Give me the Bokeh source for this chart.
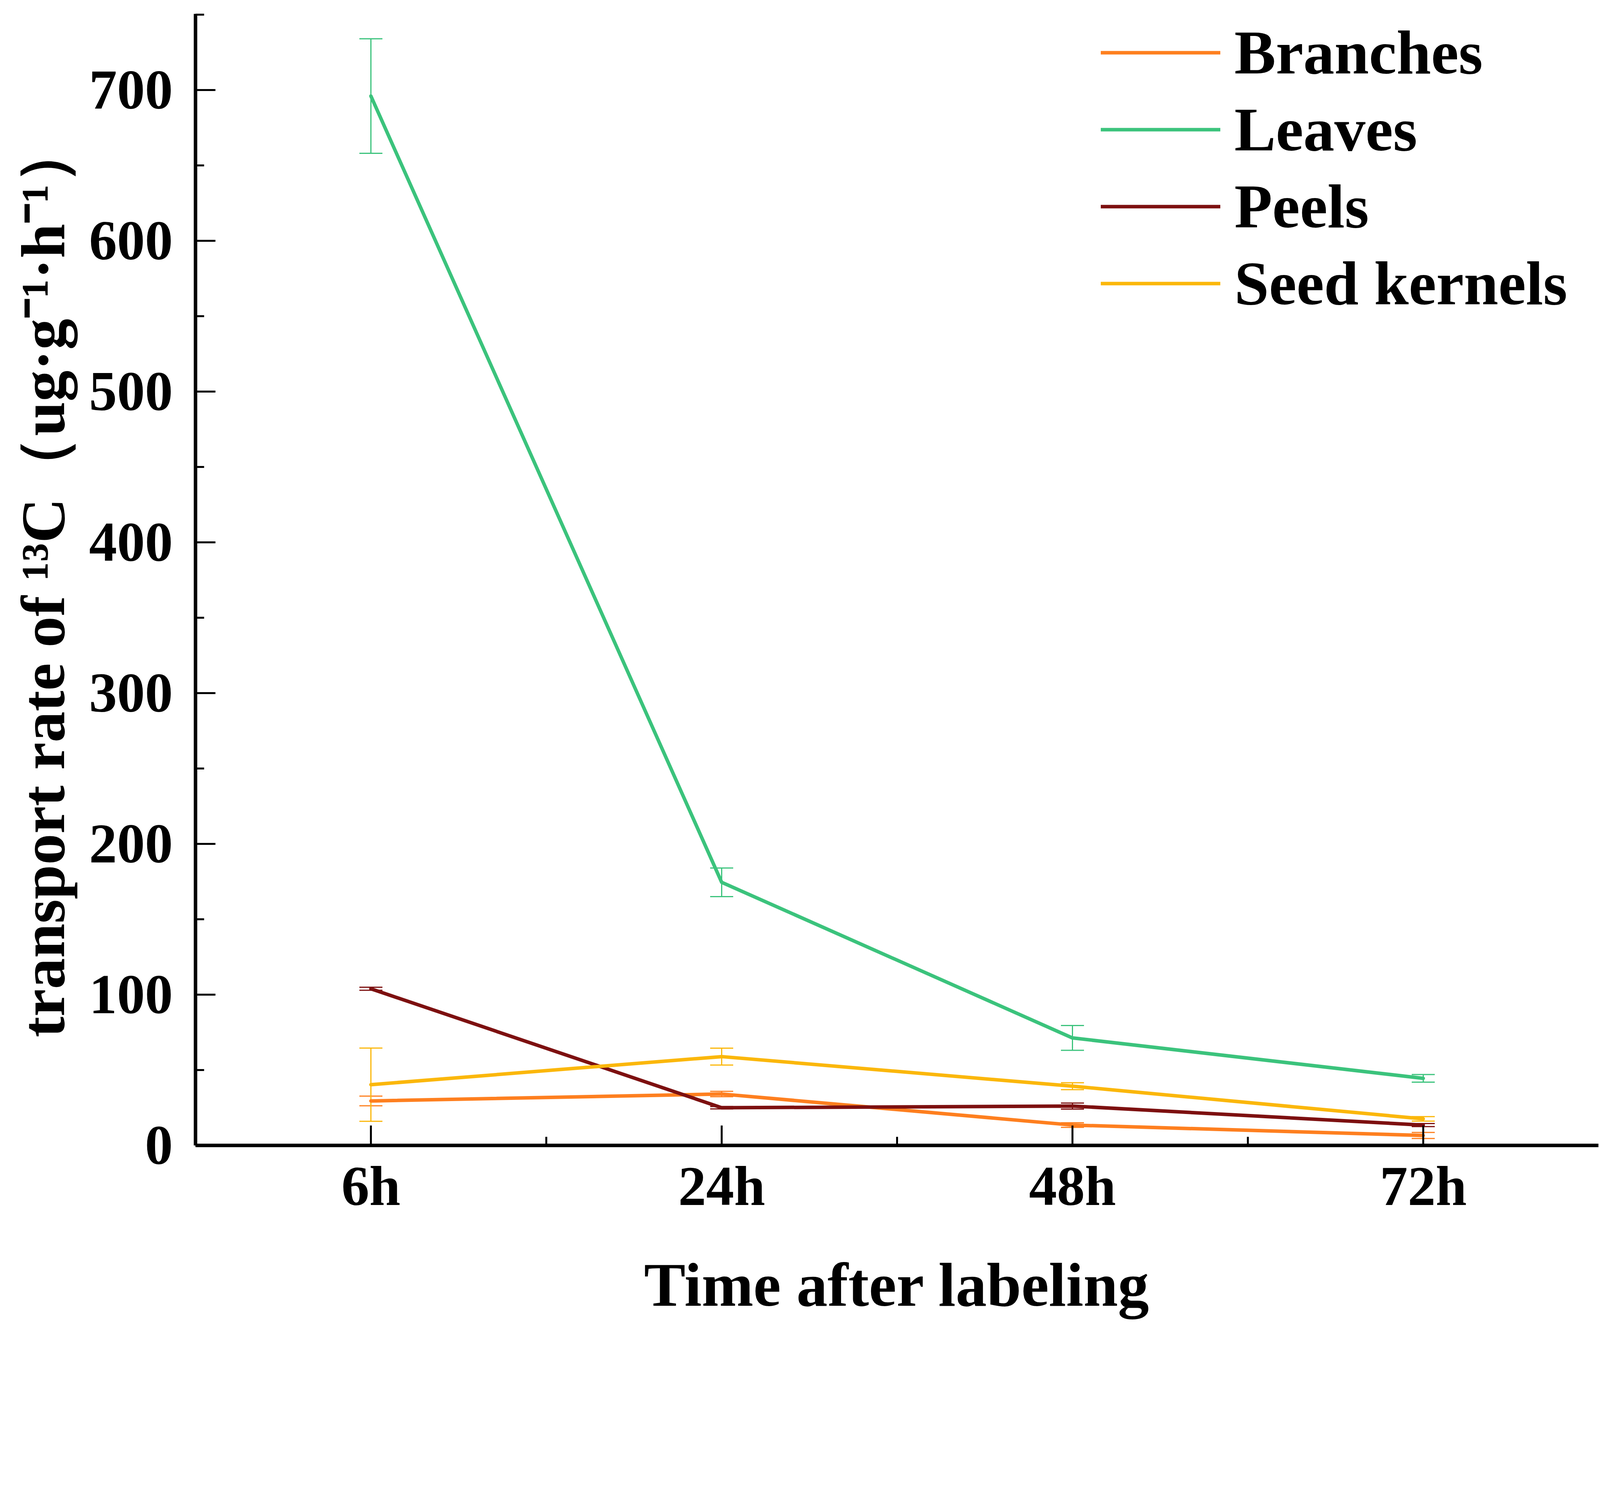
from bokeh.plotting import figure
from bokeh.models import (Range1d, FixedTicker, SingleIntervalTicker, Whisker, TeeHead,
                          ColumnDataSource, Legend, LegendItem)
from bokeh.embed import file_html
from bokeh.resources import INLINE

# ---- data ----
times = ["6h", "24h", "48h", "72h"]
series_names = ["Branches", "Leaves", "Peels", "Seed kernels"]
branches = [29.5, 34.1, 13.5, 6.6]
branches_err = [3.2, 1.8, 1.5, 2.0]
leaves = [696.0, 174.5, 71.3, 44.5]
leaves_err = [38.0, 9.5, 8.2, 2.5]
peels = [103.9, 25.0, 26.1, 13.5]
peels_err = [1.0, 0.8, 2.0, 1.0]
seed_kernels = [40.3, 58.9, 39.3, 17.6]
seed_kernels_err = [24.3, 5.6, 2.3, 1.5]
colors = ["#FE7F1F", "#3BC37C", "#7D1010", "#FBB70B"]

x = list(range(1, len(times) + 1))
FONT = "Liberation Serif"
K = 0.8951  # page px per reference px


def s(v):
    return int(round(v * K))


ML, MT = s(568) - 8, s(48) - 8
FW = s(4581) - s(568)
FH = s(3285) - s(48)
MB = s(3807) - 16 - MT - FH

p = figure(frame_width=FW, frame_height=FH, output_backend="svg", toolbar_location=None,
           x_range=Range1d(0.5, 4.5), y_range=Range1d(0, 750.5),
           min_border_left=ML, min_border_right=0, min_border_top=MT, min_border_bottom=MB)
p.outline_line_color = None
p.xgrid.visible = False
p.ygrid.visible = False

p.xaxis.ticker = FixedTicker(ticks=x, minor_ticks=[1.5, 2.5, 3.5])
p.xaxis.major_label_overrides = {xi: t for xi, t in zip(x, times)}
p.yaxis.ticker = SingleIntervalTicker(interval=100, num_minor_ticks=2)

for ax in (p.xaxis[0], p.yaxis[0]):
    ax.axis_line_width = s(10)
    ax.axis_line_color = "black"
    ax.major_tick_in = s(57)
    ax.major_tick_out = 0
    ax.minor_tick_in = s(25)
    ax.minor_tick_out = 0
    ax.major_tick_line_width = s(6)
    ax.minor_tick_line_width = s(6)
    ax.major_tick_line_color = "black"
    ax.minor_tick_line_color = "black"
    ax.major_label_text_font = FONT
    ax.major_label_text_font_style = "bold"
    ax.major_label_text_font_size = f"{s(160)}px"
    ax.major_label_text_color = "black"
    ax.axis_label_text_font = FONT
    ax.axis_label_text_font_style = "bold"
    ax.axis_label_text_font_size = f"{s(178)}px"
    ax.axis_label_text_color = "black"

p.xaxis.major_label_standoff = s(28)
p.yaxis.major_label_standoff = s(65)
p.xaxis.axis_label = "Time after labeling"
p.yaxis.axis_label = "transport rate of \u00b9\u00b3C\uff08ug\u00b7g\u207b\u00b9\u00b7h\u207b\u00b9\uff09"
p.xaxis.axis_label_standoff = s(92)
p.yaxis.axis_label_standoff = s(30)

all_vals = [branches, leaves, peels, seed_kernels]
all_errs = [branches_err, leaves_err, peels_err, seed_kernels_err]
items = []
for name, vals, errs, c in zip(series_names, all_vals, all_errs, colors):
    src = ColumnDataSource(dict(x=x, y=vals,
                                upper=[v + e for v, e in zip(vals, errs)],
                                lower=[v - e for v, e in zip(vals, errs)]))
    head_kw = dict(size=s(66), line_color=c, line_width=s(3.5))
    w = Whisker(base="x", upper="upper", lower="lower", source=src, dimension="height",
                line_color=c, line_width=s(3.5),
                upper_head=TeeHead(**head_kw), lower_head=TeeHead(**head_kw))
    p.add_layout(w)
    r = p.line("x", "y", source=src, line_color=c, line_width=s(10),
               line_cap="round", line_join="round")
    items.append(LegendItem(label=name, renderers=[r]))

# legend rows: measured text box ~1.166 * font size tall
LFONT = s(178)
row_h = int(round(LFONT * 1.166))
row_gap = max(0, s(222) - row_h)
leg_h = 4 * row_h + 3 * row_gap
leg_x = s(3157) - s(568)
leg_y = FH - leg_h  # legend top aligned with the top of the frame
legend = Legend(items=items, location=(leg_x, leg_y), orientation="vertical",
                glyph_width=s(342), glyph_height=s(160), spacing=row_gap,
                padding=0, margin=0, label_standoff=s(40),
                label_text_font=FONT, label_text_font_style="bold",
                label_text_font_size=f"{LFONT}px", label_text_color="black",
                background_fill_alpha=0, border_line_alpha=0)
p.add_layout(legend)

open("out.html", "w").write(file_html(p, INLINE))
